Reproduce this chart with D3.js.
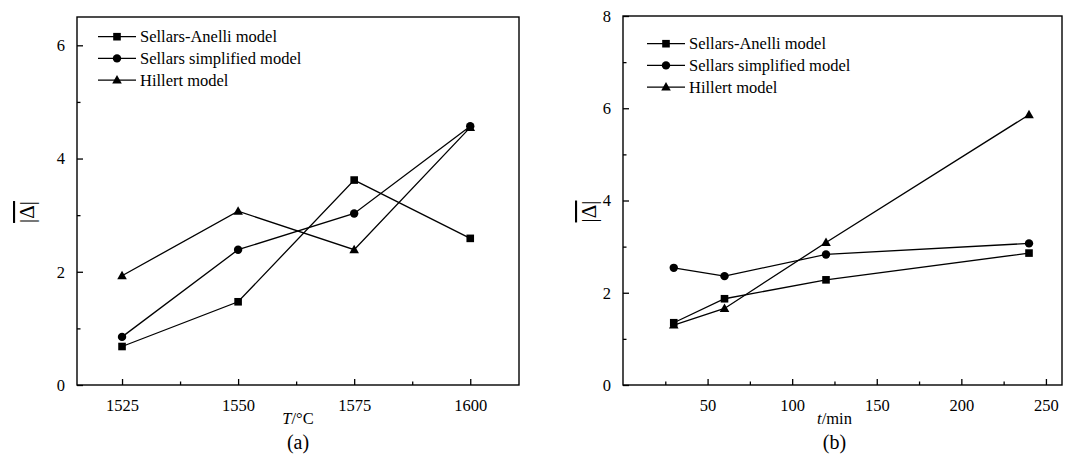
<!DOCTYPE html>
<html>
<head>
<meta charset="utf-8">
<script src="https://cdn.jsdelivr.net/npm/d3@7"></script>
<style>
  body { margin: 0; background: white; }
</style>
</head>
<body>
<svg id="chart" width="1082" height="456"></svg>
<script>
// series names (same in both panels)
const seriesNames = ["Sellars-Anelli model", "Sellars simplified model", "Hillert model"]
const markerTypes = ["square", "circle", "triangle"]

// panel (a): temperature
const tempValues = [1525, 1550, 1575, 1600]
const tempAnelli = [0.68, 1.47, 3.62, 2.59]
const tempSimplified = [0.85, 2.39, 3.03, 4.57]
const tempHillert = [1.93, 3.07, 2.39, 4.55]
const tempTicks = [1525, 1550, 1575, 1600]
const tempMinor = [1537.5, 1562.5, 1587.5]
const tempYTicks = [0, 2, 4, 6]
const tempYMinor = [1, 3, 5]

// panel (b): time
const timeValues = [30, 60, 120, 240]
const timeAnelli = [1.35, 1.87, 2.28, 2.86]
const timeSimplified = [2.54, 2.36, 2.83, 3.07]
const timeHillert = [1.30, 1.66, 3.09, 5.86]
const timeTicks = [50, 100, 150, 200, 250]
const timeMinor = [25, 75, 125, 175, 225]
const timeYTicks = [0, 2, 4, 6, 8]
const timeYMinor = [1, 3, 5, 7]

const serif = "Liberation Serif"
const svg = d3.select("#chart")

function drawMarker(g, type, x, y) {
    if (type === "square") {
        g.append("rect").attr("x", x - 3.8).attr("y", y - 3.8)
            .attr("width", 7.6).attr("height", 7.6).attr("fill", "black")
    } else if (type === "circle") {
        g.append("circle").attr("cx", x).attr("cy", y).attr("r", 4.2).attr("fill", "black")
    } else {
        g.append("path").attr("fill", "black")
            .attr("d", `M ${x} ${y-5} L ${x+4.8} ${y+3.5} L ${x-4.8} ${y+3.5} Z`)
    }
}

function drawPanel(p) {
    const x = d3.scaleLinear().domain(p.xDomain).range([p.left, p.right])
    const y = d3.scaleLinear().domain(p.yDomain).range([p.bottom, p.top])
    const g = svg.append("g")

    // frame
    g.append("rect")
        .attr("x", p.left).attr("y", p.top)
        .attr("width", p.right - p.left).attr("height", p.bottom - p.top)
        .attr("fill", "none").attr("stroke", "black").attr("stroke-width", 1.4)

    // axes, ticks pointing inward
    const xAxis = g.append("g").attr("transform", `translate(0,${p.bottom})`)
        .call(d3.axisBottom(x).tickValues(p.xTicks).tickSize(-6).tickPadding(14).tickFormat(d3.format("d")))
    const xMinor = g.append("g").attr("transform", `translate(0,${p.bottom})`)
        .call(d3.axisBottom(x).tickValues(p.xMinor).tickSize(-3.5).tickFormat(""))

    const yAxis = g.append("g").attr("transform", `translate(${p.left},0)`)
        .call(d3.axisLeft(y).tickValues(p.yTicks).tickSize(-6).tickPadding(12).tickFormat(d3.format("d")))
    const yMinor = g.append("g").attr("transform", `translate(${p.left},0)`)
        .call(d3.axisLeft(y).tickValues(p.yMinor).tickSize(-3.5).tickFormat(""))

    for (const a of [xAxis, xMinor, yAxis, yMinor]) {
        a.select(".domain").remove()
        a.selectAll("line").attr("stroke", "black").attr("stroke-width", 1.3)
        a.selectAll("text").style("font-family", serif).style("font-size", "16.5px").attr("fill", "black")
    }

    // series
    const line = d3.line().x(d => x(d[0])).y(d => y(d[1]))
    p.series.forEach((vals, i) => {
        const pts = p.xValues.map((v, j) => [v, vals[j]])
        g.append("path").datum(pts).attr("d", line)
            .attr("fill", "none").attr("stroke", "black").attr("stroke-width", 1.3)
        pts.forEach(d => drawMarker(g, markerTypes[i], x(d[0]), y(d[1])))
    })

    // legend
    seriesNames.forEach((name, i) => {
        const ly = p.legY + i * 21.7
        g.append("line").attr("x1", p.legX).attr("x2", p.legX + 38)
            .attr("y1", ly).attr("y2", ly).attr("stroke", "black").attr("stroke-width", 1.3)
        drawMarker(g, markerTypes[i], p.legX + 19, ly)
        g.append("text").attr("x", p.legX + 42).attr("y", ly).attr("dy", "0.35em")
            .style("font-family", serif).style("font-size", "16.5px").text(name)
    })

    // x title
    const xt = g.append("text").attr("x", (p.left + p.right) / 2 + p.xTitleShift).attr("y", 424)
        .attr("text-anchor", "middle").style("font-family", serif).style("font-size", "16.5px")
    xt.append("tspan").style("font-style", "italic").text(p.xVar)
    xt.append("tspan").text(p.xUnit)

    // panel label
    g.append("text").attr("x", (p.left + p.right) / 2 + p.xTitleShift).attr("y", 449)
        .attr("text-anchor", "middle").style("font-family", serif).style("font-size", "20px").text(p.label)

    // y title |Δ| with overline
    g.append("text")
        .attr("transform", `translate(${p.yTitleX},${(p.top + p.bottom) / 2 + 11}) rotate(-90)`)
        .attr("text-anchor", "middle").style("font-family", serif).style("font-size", "21px")
        .style("text-decoration", "overline")
        .text("|Δ|")
}

drawPanel({
    left: 77, right: 519, top: 17, bottom: 385,
    xDomain: [1515.3, 1610.5], yDomain: [0, 6.5],
    xTicks: tempTicks, xMinor: tempMinor, yTicks: tempYTicks, yMinor: tempYMinor,
    xValues: tempValues, series: [tempAnelli, tempSimplified, tempHillert],
    legX: 98, legY: 36.7, xVar: "T", xUnit: "/°C", xTitleShift: 0, label: "(a)", yTitleX: 34
})

drawPanel({
    left: 623, right: 1062, top: 16, bottom: 385,
    xDomain: [0, 259.5], yDomain: [0, 8],
    xTicks: timeTicks, xMinor: timeMinor, yTicks: timeYTicks, yMinor: timeYMinor,
    xValues: timeValues, series: [timeAnelli, timeSimplified, timeHillert],
    legX: 647, legY: 43.7, xVar: "t", xUnit: "/min", xTitleShift: -8, label: "(b)", yTitleX: 596
})
</script>
</body>
</html>
